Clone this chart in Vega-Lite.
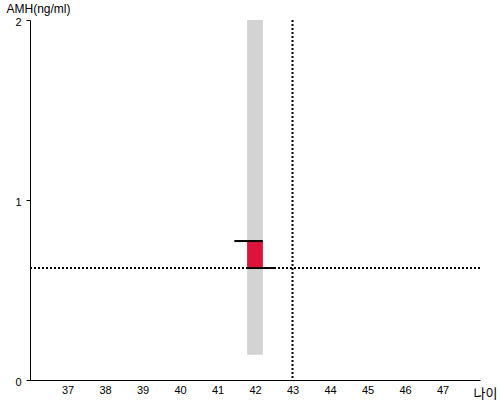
{
  "$schema": "https://vega.github.io/schema/vega-lite/v6.json",
  "width": 450,
  "height": 360,
  "autosize": "none",
  "padding": {"left": 30, "top": 20, "right": 20, "bottom": 20},
  "config": {"view": {"stroke": null}, "font": "Liberation Sans"},
  "encoding": {
    "x": {"type": "quantitative", "scale": {"domain": [36, 48], "nice": false, "zero": false}},
    "y": {"type": "quantitative", "scale": {"domain": [0, 2], "nice": false}}
  },
  "layer": [
    {
      "data": {"values": [{"x1": 41.79, "x2": 42.21, "y1": 0.14, "y2": 2}]},
      "mark": {"type": "rect", "color": "#d3d3d3"},
      "encoding": {
        "x": {"field": "x1", "type": "quantitative",
          "axis": {"title": "나이", "values": [37,38,39,40,41,42,43,44,45,46,47], "grid": false, "ticks": false, "domainColor": "black", "labelColor": "black", "labelFontSize": 11, "labelPadding": 4, "titleFont": "Noto Sans CJK KR", "titleFontSize": 13, "titleFontWeight": "normal", "titleColor": "black", "titleAlign": "left", "titleBaseline": "alphabetic", "titleX": 443, "titleY": 17}},
        "x2": {"field": "x2"},
        "y": {"field": "y1", "type": "quantitative",
          "axis": {"title": "AMH(ng/ml)", "values": [0, 1, 2], "format": ".0f", "labelOverlap": false, "labelFlush": false, "labelOffset": 2, "grid": false, "tickSize": 4, "tickColor": "black", "domainColor": "black", "labelColor": "black", "labelFontSize": 11, "labelPadding": 5, "titleAngle": 0, "titleFontSize": 12, "titleFontWeight": "normal", "titleColor": "black", "titleAlign": "left", "titleBaseline": "alphabetic", "titleX": -24, "titleY": -8}},
        "y2": {"field": "y2"}
      }
    },
    {
      "data": {"values": [{"x1": 41.79, "x2": 42.21, "y1": 0.622, "y2": 0.772}]},
      "mark": {"type": "rect", "color": "#dc143c"},
      "encoding": {
        "x": {"field": "x1", "type": "quantitative"},
        "x2": {"field": "x2"},
        "y": {"field": "y1", "type": "quantitative"},
        "y2": {"field": "y2"}
      }
    },
    {
      "data": {"values": [{"x1": 41.45, "x2": 42.21, "y": 0.772}, {"x1": 41.79, "x2": 42.52, "y": 0.622}]},
      "mark": {"type": "rule", "color": "black", "strokeWidth": 2},
      "encoding": {
        "x": {"field": "x1", "type": "quantitative"},
        "x2": {"field": "x2"},
        "y": {"field": "y", "type": "quantitative"}
      }
    },
    {
      "data": {"values": [{"y": 0.622}]},
      "mark": {"type": "rule", "color": "black", "strokeWidth": 2, "strokeDash": [2, 2]},
      "encoding": {
        "y": {"field": "y", "type": "quantitative"}
      }
    },
    {
      "data": {"values": [{"x": 43}]},
      "mark": {"type": "rule", "color": "black", "strokeWidth": 2, "strokeDash": [2, 2]},
      "encoding": {
        "x": {"field": "x", "type": "quantitative"}
      }
    }
  ]
}
